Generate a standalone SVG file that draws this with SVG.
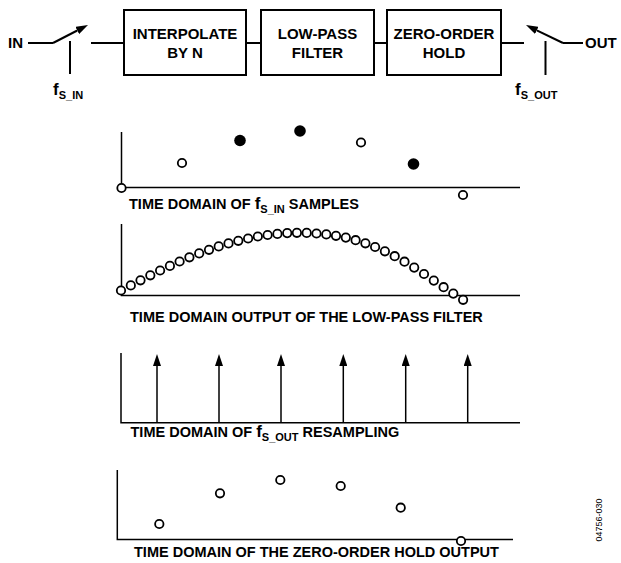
<svg xmlns="http://www.w3.org/2000/svg" width="621" height="563" viewBox="0 0 621 563">
<style>
text{font-family:"Liberation Sans",Arial,sans-serif;font-weight:bold;fill:#000}
.bt{font-size:15px;text-anchor:middle}
.lb{font-size:14.5px}
.f{font-size:17px}
.sub{font-size:11px}
.box{fill:#fff;stroke:#000;stroke-width:2}
.ln{stroke:#000;stroke-width:2;fill:none}
.ax{stroke:#000;stroke-width:1.5;fill:none}
.imp{stroke:#000;stroke-width:1.5;fill:none;marker-end:url(#ah)}
.oc{fill:#fff;stroke:#000;stroke-width:1.8}
.fc{fill:#000}
.id{font-family:"Liberation Sans",Arial,sans-serif;font-weight:normal;font-size:9px}
</style>
<defs>
<marker id="ah" viewBox="0 -4 12 8" refX="0" refY="0" markerWidth="12" markerHeight="8" markerUnits="userSpaceOnUse" orient="auto">
<path d="M0,-4 L12,0 L0,4 z" fill="#000"/>
</marker>
<circle id="o" r="4.2" class="oc"/>
</defs>

<g id="connectors">
<line class="ln" x1="28" y1="43" x2="53" y2="43"/>
<line class="ln" x1="53" y1="43" x2="77.3" y2="30.5" marker-end="url(#ah)"/>
<line class="ln" x1="70" y1="41" x2="70" y2="74"/>
<line class="ln" x1="91" y1="43" x2="124" y2="43"/>
<line class="ln" x1="246" y1="43" x2="261" y2="43"/>
<line class="ln" x1="374" y1="43" x2="387" y2="43"/>
<line class="ln" x1="501" y1="43" x2="524" y2="43"/>
<line class="ln" x1="563" y1="43" x2="536.8" y2="30.3" marker-end="url(#ah)"/>
<line class="ln" x1="545.5" y1="41" x2="545.5" y2="75"/>
<line class="ln" x1="563" y1="43" x2="583" y2="43"/>
</g>

<g id="in-label"><text x="8" y="48" style="font-size:15px">IN</text>
<text x="53" y="95"><tspan class="f">f</tspan><tspan class="sub" dy="4">S_IN</tspan></text></g>
<g id="out-label"><text x="585" y="48" style="font-size:15px">OUT</text>
<text x="515" y="95"><tspan class="f">f</tspan><tspan class="sub" dy="4">S_OUT</tspan></text></g>

<g id="interpolate"><rect class="box" x="124" y="10" width="122" height="65"/>
<text class="bt" x="185" y="39">INTERPOLATE</text><text class="bt" x="185" y="58">BY N</text></g>
<g id="lowpass"><rect class="box" x="261" y="10" width="113" height="65"/>
<text class="bt" x="317.5" y="39">LOW-PASS</text><text class="bt" x="317.5" y="58">FILTER</text></g>
<g id="zoh"><rect class="box" x="387" y="10" width="114" height="65"/>
<text class="bt" x="444" y="39">ZERO-ORDER</text><text class="bt" x="444" y="58">HOLD</text></g>

<g id="panel1">
<polyline class="ax" points="121.5,132 121.5,187.5 520,187.5"/>
<use href="#o" x="121.5" y="188"/>
<use href="#o" x="182" y="163"/>
<circle class="fc" cx="240" cy="140.5" r="5.8"/>
<circle class="fc" cx="300" cy="131" r="5.8"/>
<use href="#o" x="361" y="142.5"/>
<circle class="fc" cx="413.5" cy="164" r="5.8"/>
<use href="#o" x="463" y="195"/>
<text class="lb" x="129" y="209">TIME DOMAIN OF <tspan class="f">f</tspan><tspan class="sub" dy="4">S_IN</tspan><tspan dy="-4"> SAMPLES</tspan></text>
</g>

<g id="panel2">
<polyline class="ax" points="121.5,224 121.5,295.5 520,295.5"/>
<use href="#o" x="121.0" y="290.5"/><use href="#o" x="130.8" y="285.4"/><use href="#o" x="140.5" y="280.3"/><use href="#o" x="150.3" y="275.3"/><use href="#o" x="160.1" y="270.5"/><use href="#o" x="169.9" y="265.9"/><use href="#o" x="179.6" y="261.5"/><use href="#o" x="189.4" y="257.3"/><use href="#o" x="199.2" y="253.4"/><use href="#o" x="209.0" y="249.8"/><use href="#o" x="218.7" y="246.4"/><use href="#o" x="228.5" y="243.4"/><use href="#o" x="238.3" y="240.8"/><use href="#o" x="248.1" y="238.5"/><use href="#o" x="257.8" y="236.5"/><use href="#o" x="267.6" y="235.0"/><use href="#o" x="277.4" y="233.9"/><use href="#o" x="287.2" y="233.1"/><use href="#o" x="296.9" y="232.8"/><use href="#o" x="306.7" y="232.9"/><use href="#o" x="316.5" y="233.5"/><use href="#o" x="326.3" y="234.4"/><use href="#o" x="336.0" y="235.8"/><use href="#o" x="345.8" y="237.6"/><use href="#o" x="355.6" y="240.2"/><use href="#o" x="365.4" y="243.3"/><use href="#o" x="375.1" y="247.0"/><use href="#o" x="384.9" y="251.3"/><use href="#o" x="394.7" y="256.2"/><use href="#o" x="404.5" y="261.7"/><use href="#o" x="414.2" y="267.6"/><use href="#o" x="424.0" y="274.0"/><use href="#o" x="433.8" y="280.6"/><use href="#o" x="443.6" y="287.2"/><use href="#o" x="453.3" y="293.6"/><use href="#o" x="463.1" y="299.8"/>
<text class="lb" x="130" y="322">TIME DOMAIN OUTPUT OF THE LOW-PASS FILTER</text>
</g>

<g id="panel3">
<polyline class="ax" points="121,353 121,422.7 520,422.7"/>
<line class="imp" x1="157" y1="422.7" x2="157" y2="366"/>
<line class="imp" x1="219" y1="422.7" x2="219" y2="366"/>
<line class="imp" x1="281" y1="422.7" x2="281" y2="366"/>
<line class="imp" x1="343.3" y1="422.7" x2="343.3" y2="366"/>
<line class="imp" x1="405.7" y1="422.7" x2="405.7" y2="366"/>
<line class="imp" x1="467.7" y1="422.7" x2="467.7" y2="366"/>
<text class="lb" x="130.5" y="437">TIME DOMAIN OF <tspan class="f">f</tspan><tspan class="sub" dy="4">S_OUT</tspan><tspan dy="-4"> RESAMPLING</tspan></text>
</g>

<g id="panel4">
<polyline class="ax" points="117.3,470 117.3,539.5 513,539.5"/>
<use href="#o" x="159.3" y="524"/>
<use href="#o" x="220" y="493.3"/>
<use href="#o" x="280.3" y="480"/>
<use href="#o" x="340.7" y="486"/>
<use href="#o" x="400.7" y="507.7"/>
<use href="#o" x="461" y="541"/>
<text class="lb" x="134" y="557">TIME DOMAIN OF THE ZERO-ORDER HOLD OUTPUT</text>
</g>

<text class="id" transform="translate(602,520) rotate(-90)" text-anchor="middle">04756-030</text>
</svg>
